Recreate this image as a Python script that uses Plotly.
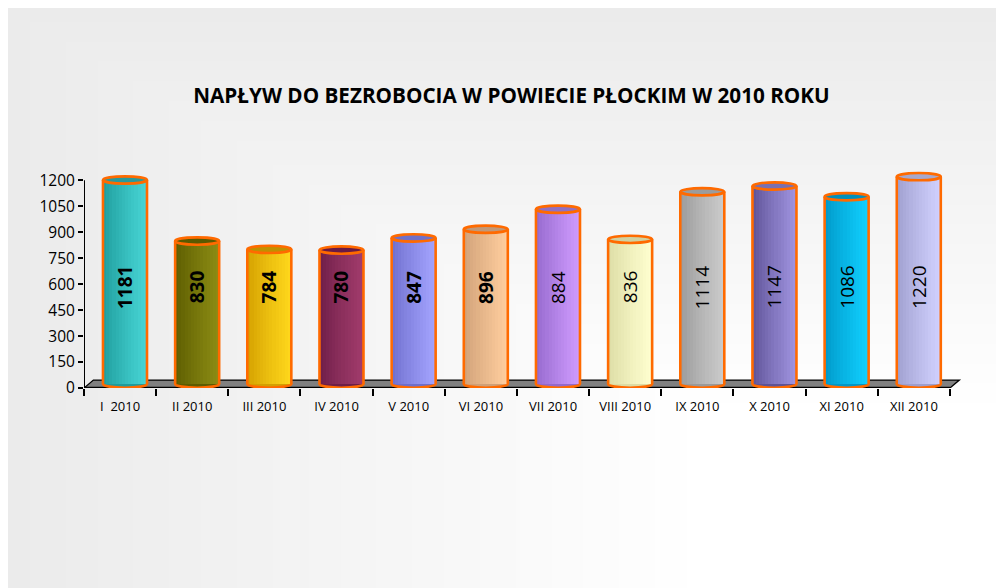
import base64
import struct
import zlib

import numpy as np
import plotly.graph_objects as go

# ---------------- data ----------------
months = ["I\u00a0\u00a02010", "II 2010", "III 2010", "IV 2010", "V 2010", "VI 2010",
          "VII 2010", "VIII 2010", "IX 2010", "X 2010", "XI 2010", "XII 2010"]
label_values = [1181, 830, 784, 780, 847, 896, 884, 836, 1114, 1147, 1086, 1220]
# heights of the drawn cylinders as read against the value axis
bar_heights = [1202, 849, 801, 797, 867, 917, 1033, 859, 1134, 1167, 1105, 1221]
bold_labels = [True] * 6 + [False] * 6
y_ticks = [0, 150, 300, 450, 600, 750, 900, 1050, 1200]

# ---------------- styles ----------------
dark_cols = ["#1E9C9C", "#5C5C00", "#D4A000", "#6E1E48", "#6E6ECC", "#CFA078",
             "#9468CC", "#DCDCA4", "#9A9A9A", "#5E5296", "#0098C8", "#9E9ECE"]
light_cols = ["#48D6D6", "#8C8C14", "#FFD81C", "#A23C6C", "#A4A4FF", "#FFCE9E",
              "#D09CFF", "#FFFFD0", "#CCCCCC", "#A094E0", "#10D0FF", "#D2D2FF"]
top_cols = ["#2A9A9A", "#5A5A00", "#C09000", "#6A1A44", "#7070C8", "#C09878",
            "#9270C0", "#D0D0A0", "#9C9C9C", "#7A70B0", "#0090BC", "#A8A8CC"]
ORANGE = "#FF6A00"
FONT = "Open Sans"

# the page body has an 8px margin, so the figure starts at (8, 8) on screen
OFF = 8
W, H = 1004 - OFF, 588 - OFF
L = 84.0 - OFF
CAT = 72.2
X_MAX = 11.75
PW = (X_MAX + 0.5) * CAT
R = W - L - PW
B = 200.0
Y_MAX = 1300
PX_PER_UNIT = 207.6 / 1200
PH = Y_MAX * PX_PER_UNIT
T = H - B - PH

BAR_W = 0.61
SHIFT = 0.068
BASE = 23
ELL = 21
N_STRIPES = 14
LABEL_Y = 583
FLOOR_DX, FLOOR_DY = 0.13, 46


def hex2rgb(h):
    h = h.lstrip("#")
    return np.array([int(h[i:i + 2], 16) for i in (0, 2, 4)], dtype=float)


def mix(a, b, t):
    c = hex2rgb(a) * (1 - t) + hex2rgb(b) * t
    return "rgb(%d,%d,%d)" % tuple(np.clip(np.round(c), 0, 255))


# ---------------- background gradient image ----------------
def make_png(arr):
    h, w, _ = arr.shape
    raw = b"".join(b"\x00" + arr[r].tobytes() for r in range(h))

    def chunk(tag, data):
        c = struct.pack(">I", len(data)) + tag + data
        return c + struct.pack(">I", zlib.crc32(tag + data) & 0xFFFFFFFF)

    return (b"\x89PNG\r\n\x1a\n" + chunk(b"IHDR", struct.pack(">IIBBBBB", w, h, 8, 2, 0, 0, 0))
            + chunk(b"IDAT", zlib.compress(raw, 9)) + chunk(b"IEND", b""))


gw, gh = 250, 146
xs = np.linspace(0, W, gw)
ys = np.linspace(0, H, gh)
XX, YY = np.meshgrid(xs, ys)
tt = np.maximum((W - XX) / W, (H - YY) / H)
vv = np.where(tt < 0.3, 255.0, 255.0 - 20.0 * (tt - 0.3) / 0.7)
img = np.repeat(np.round(vv).astype(np.uint8)[:, :, None], 3, axis=2)
img_uri = "data:image/png;base64," + base64.b64encode(make_png(img)).decode()


def px_to_paper_x(px):
    return (px - L) / PW


def py_to_paper_y(py):
    return (H - B - py) / PH


fig = go.Figure()

# ---------------- cylinders (striped bars) ----------------
n = len(months)
for k in range(N_STRIPES):
    t = (k + 0.5) / N_STRIPES
    s = t ** 0.85
    cols = [mix(dark_cols[i], light_cols[i], s) for i in range(n)]
    fig.add_trace(go.Bar(
        x=months,
        y=[h - BASE for h in bar_heights],
        base=[BASE] * n,
        width=BAR_W / N_STRIPES + 0.002,
        offset=-BAR_W / 2 + SHIFT + k * BAR_W / N_STRIPES,
        marker=dict(color=cols, line=dict(width=0)),
        hoverinfo="skip",
        showlegend=False,
    ))

shapes = []
# floor
x0f, x1f = -0.5, 11.5
shapes.append(dict(
    type="path", xref="x", yref="y", layer="below",
    path=f"M {x0f},0 L {x1f},0 L {x1f + FLOOR_DX},{FLOOR_DY} L {x0f + FLOOR_DX},{FLOOR_DY} Z",
    fillcolor="#808080", line=dict(color="black", width=1.3),
))
shapes.append(dict(type="line", xref="x", yref="y", layer="below",
                   x0=x0f, x1=x1f, y0=0, y1=0, line=dict(color="black", width=2.5)))
# value axis line
shapes.append(dict(type="line", xref="x", yref="y", layer="above",
                   x0=-0.5, x1=-0.5, y0=0, y1=y_ticks[-1], line=dict(color="black", width=2)))

for i, h in enumerate(bar_heights):
    cx = i + SHIFT
    xl, xr = cx - BAR_W / 2, cx + BAR_W / 2
    # bottom ellipse
    shapes.append(dict(type="circle", xref="x", yref="y", layer="below",
                       x0=xl, x1=xr, y0=BASE - ELL, y1=BASE + ELL,
                       fillcolor=dark_cols[i], line=dict(color=ORANGE, width=2.5)))
    # sides
    for xe in (xl, xr):
        shapes.append(dict(type="line", xref="x", yref="y", layer="above",
                           x0=xe, x1=xe, y0=BASE, y1=h, line=dict(color=ORANGE, width=2.6)))
    # top ellipse
    shapes.append(dict(type="circle", xref="x", yref="y", layer="above",
                       x0=xl, x1=xr, y0=h - ELL, y1=h + ELL,
                       fillcolor=top_cols[i], line=dict(color=ORANGE, width=2.6)))

annotations = []
for i, v in enumerate(label_values):
    txt = f"<b>{v}</b>" if bold_labels[i] else str(v)
    annotations.append(dict(
        x=i + SHIFT, y=LABEL_Y, xref="x", yref="y", text=txt, textangle=-90,
        showarrow=False, xanchor="center", yanchor="middle",
        font=dict(family=FONT, size=19, color="black"),
    ))

fig.update_layout(
    width=W, height=H,
    margin=dict(l=L, r=R, t=T, b=B, pad=0, autoexpand=False),
    paper_bgcolor="#EBEBEB",
    plot_bgcolor="rgba(0,0,0,0)",
    barmode="overlay",
    bargap=0,
    showlegend=False,
    title=dict(
        text="<b>NAPŁYW DO BEZROBOCIA W POWIECIE PŁOCKIM W 2010 ROKU</b>",
        x=(511.5 - OFF) / W, xanchor="center", y=1 - (95.7 - OFF) / H, yanchor="middle",
        font=dict(family=FONT, size=20.7, color="black"),
    ),
    xaxis=dict(
        type="category", categoryorder="array", categoryarray=months,
        range=[-0.5, X_MAX], tickson="boundaries",
        ticks="outside", ticklen=7, tickwidth=1.5, tickcolor="black",
        ticklabelstandoff=9,
        showline=False, showgrid=False, zeroline=False,
        tickfont=dict(family=FONT, size=13, color="black"),
        fixedrange=True,
    ),
    yaxis=dict(
        range=[0, Y_MAX], tickmode="array", tickvals=y_ticks,
        ticktext=[str(v) for v in y_ticks],
        ticks="outside", ticklen=5, tickwidth=1.5, tickcolor="black",
        showline=False, showgrid=False, zeroline=False,
        tickfont=dict(family=FONT, size=15.5, color="black"),
        fixedrange=True,
    ),
    shapes=shapes,
    annotations=annotations,
    images=[dict(
        source=img_uri, xref="paper", yref="paper",
        x=px_to_paper_x(0), y=py_to_paper_y(0),
        sizex=W / PW, sizey=H / PH,
        sizing="stretch", xanchor="left", yanchor="top", layer="below",
    )],
)

fig.write_html("out.html", config={"displayModeBar": False})
